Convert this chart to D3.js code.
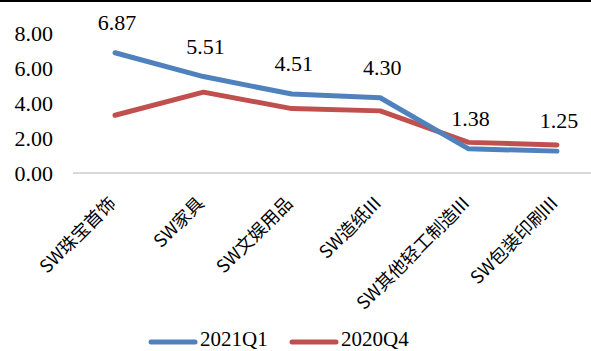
<!DOCTYPE html>
<html><head><meta charset="utf-8">
<script src="https://cdn.jsdelivr.net/npm/d3@7"></script>
</head><body style="margin:0;background:#fff">
<svg id="c" width="591" height="351"></svg>
<script>
const categories = ["SW珠宝首饰","SW家具","SW文娱用品","SW造纸III","SW其他轻工制造III","SW包装印刷III"];
const series2021Q1 = [6.87, 5.51, 4.51, 4.30, 1.38, 1.25];
const series2020Q4 = [3.30, 4.62, 3.68, 3.55, 1.75, 1.60];
const yTicks = [0, 2, 4, 6, 8];
const seriesNames = ["2021Q1", "2020Q4"];
const colors = ["#4F81BD", "#C0504D"];
const SERIF = "'Liberation Serif', 'Times New Roman', serif";
const CJK = "'Noto Sans CJK SC', sans-serif";

const svg = d3.select("#c");
svg.append("rect").attr("x",0).attr("y",0).attr("width",591).attr("height",2).attr("fill","#000");

const x = d3.scalePoint().domain(categories).range([115, 557]);
const y = d3.scaleLinear().domain([0, 8]).range([173, 33]);

svg.append("line").attr("x1",73).attr("x2",591).attr("y1",y(0)).attr("y2",y(0))
  .attr("stroke","#D9D9D9").attr("stroke-width",2);

const yAxis = d3.axisLeft(y).tickValues(yTicks).tickFormat(d3.format(".2f")).tickSize(0).tickPadding(0);
const gy = svg.append("g").attr("transform","translate(53,0)").call(yAxis);
gy.attr("font-family", SERIF).attr("font-size", 22);
gy.select(".domain").remove();
gy.selectAll("text").style("font-family", SERIF).style("font-size", "22px").attr("fill","#000").attr("dy","0.34em");

const xAxis = d3.axisBottom(x).tickSize(0).tickPadding(0);
const gx = svg.append("g").attr("transform","translate(0,200)").call(xAxis);
gx.attr("font-family", CJK).attr("font-size", 18);
gx.select(".domain").remove();
gx.selectAll("text").style("font-family", CJK).style("font-size", "18px")
  .attr("fill","#000").attr("text-anchor","end").attr("dy","0.35em")
  .attr("transform","translate(-3,0) rotate(-45)").attr("y",0);

const line = d3.line().x((d,i)=>x(categories[i])).y(d=>y(d));
[[series2020Q4,1],[series2021Q1,0]].forEach(([s,ci])=>{
  svg.append("path").datum(s).attr("d",line).attr("fill","none")
    .attr("stroke",colors[ci]).attr("stroke-width",5).attr("stroke-linejoin","round").attr("stroke-linecap","round");
});

svg.append("g").selectAll("text").data(series2021Q1).join("text")
  .style("font-family", SERIF).style("font-size", "22px")
  .attr("x",(d,i)=>x(categories[i])+2).attr("y",d=>y(d)-23)
  .attr("text-anchor","middle").attr("fill","#000").text(d=>d.toFixed(2));

const legX = [149, 290];
seriesNames.forEach((n,i)=>{
  svg.append("line").attr("x1",legX[i]+2).attr("x2",legX[i]+46).attr("y1",342).attr("y2",342)
    .attr("stroke",colors[i]).attr("stroke-width",5).attr("stroke-linecap","round");
  svg.append("text").style("font-family", SERIF).style("font-size", "21px")
    .attr("x",legX[i]+51).attr("y",346).attr("fill","#000").text(n);
});
</script>
</body></html>
